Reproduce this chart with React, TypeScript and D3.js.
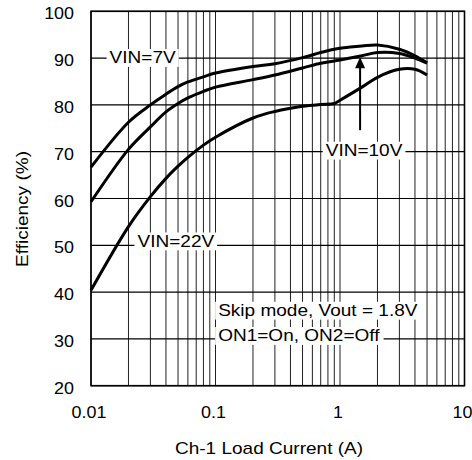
import React, { useEffect, useRef } from 'react';
import * as d3 from 'd3';

// load current (A) and efficiency (%)
const current = [0.01, 0.02, 0.03, 0.04, 0.05, 0.06, 0.08, 0.1, 0.2, 0.3, 0.5, 0.7, 0.9, 1, 1.5, 2, 3, 4, 5];
const vin7 = [66.7, 76.3, 80.0, 82.3, 83.9, 84.9, 86.0, 86.8, 88.2, 88.8, 90.1, 91.2, 91.9, 92.1, 92.6, 92.8, 91.9, 90.5, 89.0];
const vin10 = [59.3, 70.5, 75.3, 78.5, 80.3, 81.5, 82.9, 83.8, 85.4, 86.4, 87.9, 88.9, 89.4, 89.6, 90.5, 91.2, 91.0, 90.0, 88.9];
const vin22 = [40.4, 54.0, 60.4, 64.3, 66.9, 68.8, 71.4, 73.1, 77.2, 78.6, 79.7, 80.1, 80.3, 81.0, 83.8, 85.9, 87.6, 87.6, 86.4];

const xTicks = [0.01, 0.1, 1, 10];
const xTickLabels = ['0.01', '0.1', '1', '10'];
const yTicks = [20, 30, 40, 50, 60, 70, 80, 90, 100];

// annotations: [text, x (A), y (%), anchor]
const notes: Array<[string, number, number, string]> = [
  ['VIN=7V', 0.026, 90.2, 'middle'],
  ['VIN=10V', 1.56, 70.4, 'middle'],
  ['VIN=22V', 0.048, 51.0, 'middle'],
  ['Skip mode, Vout = 1.8V', 0.105, 36.2, 'start'],
  ['ON1=On, ON2=Off', 0.105, 30.8, 'start'],
];

const arrowX = 1.45;
const arrowFrom = 74.6;
const arrowTo = 90.2;

const FONT = '"Liberation Sans", Arial, sans-serif';
const SX = 1.12; // glyphs in the original are a bit wide

export default function App() {
  const ref = useRef<SVGSVGElement>(null);

  useEffect(() => {
    const svg = d3.select(ref.current);
    svg.selectAll('*').remove();

    const x = d3.scaleLog().domain([0.01, 10]).range([91, 464.5]);
    const y = d3.scaleLinear().domain([20, 100]).range([385.7, 11.3]);
    const [x0, x1] = x.range();
    const [y0, y1] = y.range();

    const text = (g, tx, ty, s, size, anchor, rotate = 0) => {
      const t = g
        .append('g')
        .attr('transform', `translate(${tx},${ty}) rotate(${rotate}) scale(${SX},1)`)
        .append('text')
        .attr('font-family', FONT)
        .attr('font-size', size)
        .attr('text-anchor', anchor)
        .attr('dy', '0.35em')
        .attr('fill', '#000')
        .text(s);
      return t;
    };

    // grid
    const grid = svg.append('g');
    grid
      .selectAll('line.v')
      .data(x.ticks())
      .enter()
      .append('line')
      .attr('x1', (d) => x(d))
      .attr('x2', (d) => x(d))
      .attr('y1', y1)
      .attr('y2', y0)
      .attr('stroke', '#222')
      .attr('stroke-width', 1);
    grid
      .selectAll('line.h')
      .data(yTicks)
      .enter()
      .append('line')
      .attr('x1', x0)
      .attr('x2', x1)
      .attr('y1', (d) => y(d))
      .attr('y2', (d) => y(d))
      .attr('stroke', '#000')
      .attr('stroke-width', 1.2);

    svg
      .append('rect')
      .attr('x', x0)
      .attr('y', y1)
      .attr('width', x1 - x0)
      .attr('height', y0 - y1)
      .attr('fill', 'none')
      .attr('stroke', '#000')
      .attr('stroke-width', 1.6);

    // tick labels
    const axes = svg.append('g');
    xTicks.forEach((t, i) => text(axes, x(t) - 2, y0 + 27, xTickLabels[i], 16, 'middle'));
    yTicks.forEach((t) => text(axes, x0 - 17, y(t) + 2.5, String(t), 16, 'end'));
    text(axes, 269, 448, 'Ch-1 Load Current (A)', 17, 'middle');
    text(axes, 22, 209, 'Efficiency (%)', 17, 'middle', -90);

    // annotations with white boxes
    notes.forEach(([s, nx, ny, anchor]) => {
      const g = svg.append('g');
      const rect = g.append('rect').attr('fill', '#fff');
      const tx = x(nx);
      const ty = y(ny);
      const t = text(g, tx, ty, s, 17, anchor);
      const b = (t.node() as SVGTextElement).getBBox();
      rect
        .attr('x', tx + b.x * SX - 3)
        .attr('y', ty + b.y + 1)
        .attr('width', b.width * SX + 6)
        .attr('height', b.height - 1);
    });

    // curves
    const line = d3
      .line<number>()
      .x((_, i) => x(current[i]))
      .y((d) => y(d))
      .curve(d3.curveCatmullRom.alpha(0.5));

    [vin7, vin10, vin22].forEach((series) => {
      svg
        .append('path')
        .datum(series)
        .attr('fill', 'none')
        .attr('stroke', '#000')
        .attr('stroke-width', 3)
        .attr('stroke-linejoin', 'round')
        .attr('d', line);
    });

    // arrow to VIN=10V curve
    const ax = x(arrowX);
    const tip = y(arrowTo);
    svg
      .append('line')
      .attr('x1', ax)
      .attr('x2', ax)
      .attr('y1', y(arrowFrom))
      .attr('y2', tip + 9)
      .attr('stroke', '#000')
      .attr('stroke-width', 2);
    svg
      .append('path')
      .attr('d', `M${ax},${tip} L${ax - 5},${tip + 11} L${ax + 5},${tip + 11} Z`)
      .attr('fill', '#000');
  }, []);

  return (
    <svg
      ref={ref}
      width={472}
      height={460}
      style={{ position: 'absolute', left: 0, top: 0, background: '#fff' }}
    />
  );
}
